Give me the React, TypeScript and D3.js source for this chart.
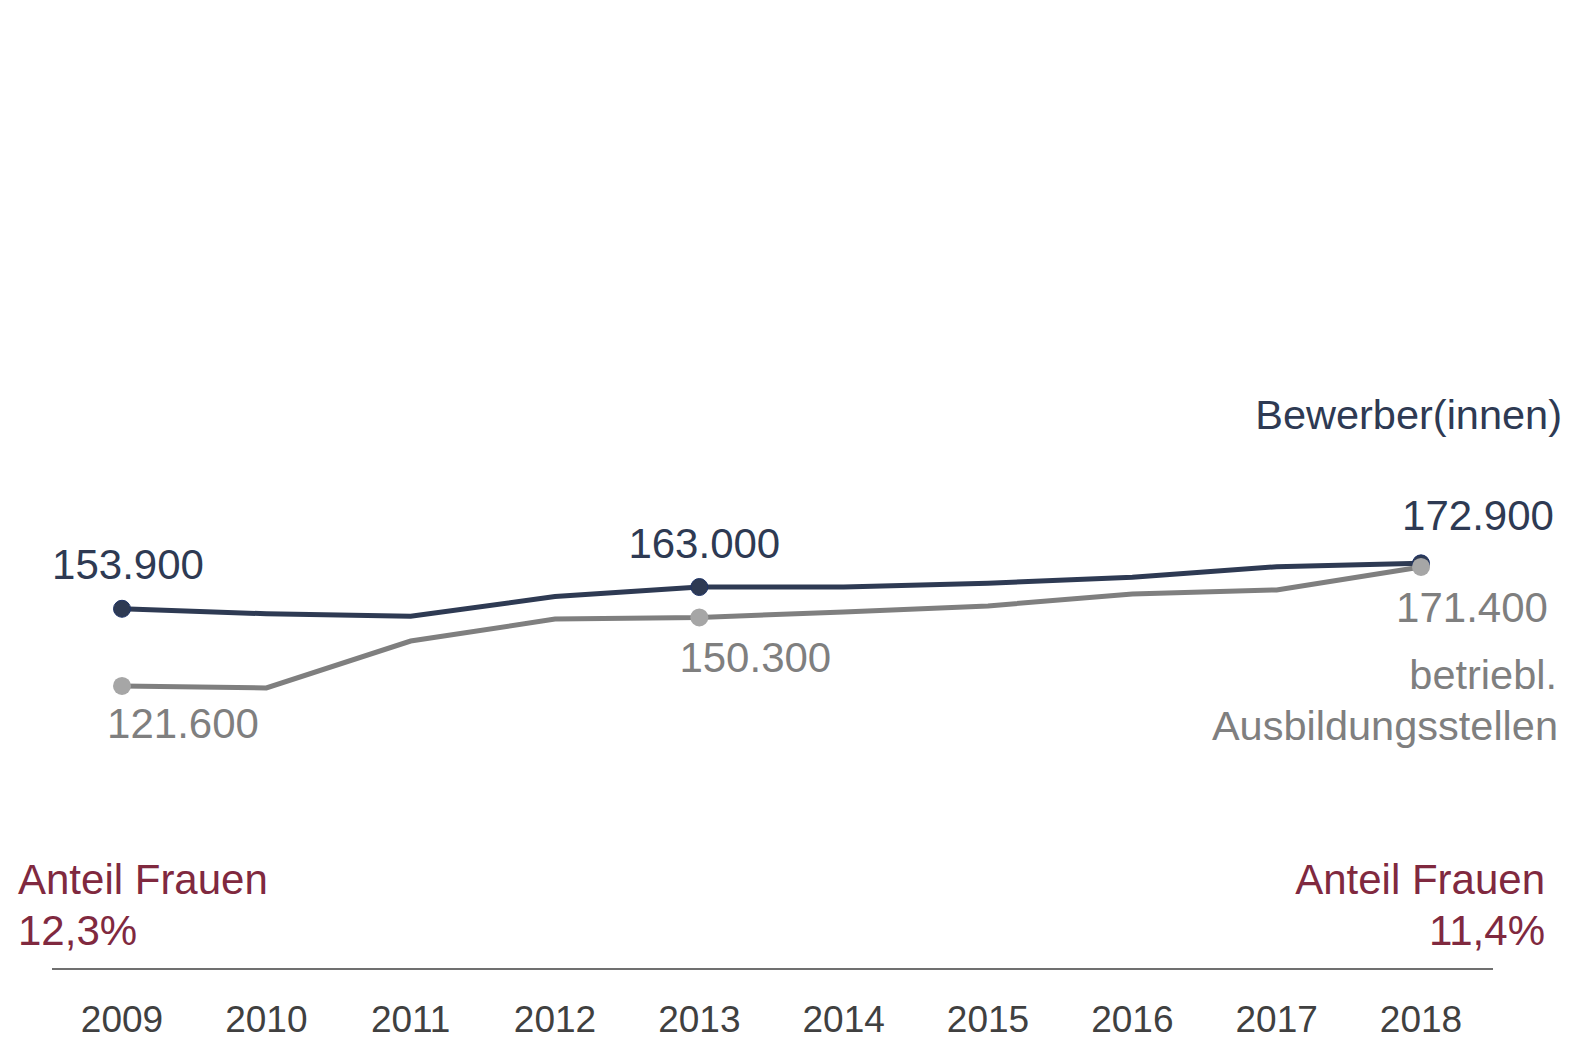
import { useEffect, useRef } from "react";
import * as d3 from "d3";

const years = ["2009", "2010", "2011", "2012", "2013", "2014", "2015", "2016", "2017", "2018"];
// Bewerber(innen), in thousands
const applicants = [153.9, 151.8, 150.8, 159.0, 163.0, 163.0, 164.6, 167.1, 171.5, 172.9];
// betriebl. Ausbildungsstellen, in thousands
const positions = [121.6, 120.8, 140.4, 149.6, 150.3, 152.6, 155.1, 160.1, 161.8, 171.4];
const markedYears = ["2009", "2013", "2018"];
const applicantLabels = ["153.900", "163.000", "172.900"];
const positionLabels = ["121.600", "150.300", "171.400"];
const shareLeft = ["Anteil Frauen", "12,3%"];
const shareRight = ["Anteil Frauen", "11,4%"];

export default function App() {
  const ref = useRef<SVGSVGElement | null>(null);

  useEffect(() => {
    if (!ref.current) return;
    const svg = d3.select(ref.current);
    svg.selectAll("*").remove();

    const font = "'Liberation Sans', Arial, sans-serif";
    const dark = "#2e3a53";
    const grey = "#7f7f7f";
    const greyDot = "#a6a6a6";
    const maroon = "#80293f";
    const axisCol = "#404040";

    const x = d3.scalePoint<string>().domain(years).range([122, 1421]);
    const y = d3.scaleLinear().domain([0, 400]).range([976.6, 20.6]);

    const line = d3
      .line<number>()
      .x((_, i) => x(years[i]) ?? 0)
      .y((d) => y(d));

    // baseline axis
    svg
      .append("line")
      .attr("x1", 52)
      .attr("x2", 1493)
      .attr("y1", 969)
      .attr("y2", 969)
      .attr("stroke", axisCol)
      .attr("stroke-width", 1.5);

    svg
      .append("g")
      .selectAll("text")
      .data(years)
      .join("text")
      .attr("x", (d) => x(d) ?? 0)
      .attr("y", 1032)
      .attr("text-anchor", "middle")
      .attr("font-family", font)
      .attr("font-size", 37)
      .attr("fill", axisCol)
      .text((d) => d);

    // lines
    svg
      .append("path")
      .datum(applicants)
      .attr("d", line)
      .attr("fill", "none")
      .attr("stroke", dark)
      .attr("stroke-width", 5);

    svg
      .append("g")
      .selectAll("circle")
      .data(markedYears)
      .join("circle")
      .attr("cx", (d) => x(d) ?? 0)
      .attr("cy", (d) => y(applicants[years.indexOf(d)]))
      .attr("r", 8.5)
      .attr("fill", dark)
      .attr("stroke", "#1f3468")
      .attr("stroke-width", 1);

    svg
      .append("path")
      .datum(positions)
      .attr("d", line)
      .attr("fill", "none")
      .attr("stroke", grey)
      .attr("stroke-width", 5);

    svg
      .append("g")
      .selectAll("circle")
      .data(markedYears)
      .join("circle")
      .attr("cx", (d) => x(d) ?? 0)
      .attr("cy", (d) => y(positions[years.indexOf(d)]))
      .attr("r", 9)
      .attr("fill", greyDot);

    // value labels
    const appOffsets = [
      [6, -30],
      [5, -29],
      [57, -33],
    ];
    svg
      .append("g")
      .selectAll("text")
      .data(markedYears)
      .join("text")
      .attr("x", (d, i) => (x(d) ?? 0) + appOffsets[i][0])
      .attr("y", (d, i) => y(applicants[years.indexOf(d)]) + appOffsets[i][1])
      .attr("text-anchor", "middle")
      .attr("font-family", font)
      .attr("font-size", 42)
      .attr("fill", dark)
      .text((_, i) => applicantLabels[i]);

    const posOffsets = [
      [61, 52],
      [56, 55],
      [51, 55],
    ];
    svg
      .append("g")
      .selectAll("text")
      .data(markedYears)
      .join("text")
      .attr("x", (d, i) => (x(d) ?? 0) + posOffsets[i][0])
      .attr("y", (d, i) => y(positions[years.indexOf(d)]) + posOffsets[i][1])
      .attr("text-anchor", "middle")
      .attr("font-family", font)
      .attr("font-size", 42)
      .attr("fill", grey)
      .text((_, i) => positionLabels[i]);

    // series names
    svg
      .append("text")
      .attr("x", 1562)
      .attr("y", 429)
      .attr("text-anchor", "end")
      .attr("font-family", font)
      .attr("font-size", 41.5)
      .attr("fill", dark)
      .text("Bewerber(innen)");

    svg
      .append("text")
      .attr("x", 1557)
      .attr("y", 689)
      .attr("text-anchor", "end")
      .attr("font-family", font)
      .attr("font-size", 41.5)
      .attr("fill", grey)
      .text("betriebl.");

    svg
      .append("text")
      .attr("x", 1558)
      .attr("y", 740)
      .attr("text-anchor", "end")
      .attr("font-family", font)
      .attr("font-size", 41.5)
      .attr("fill", grey)
      .text("Ausbildungsstellen");

    // share of women
    svg
      .append("g")
      .selectAll("text")
      .data(shareLeft)
      .join("text")
      .attr("x", 18)
      .attr("y", (_, i) => 894 + i * 51)
      .attr("font-family", font)
      .attr("font-size", 42)
      .attr("fill", maroon)
      .text((d) => d);

    svg
      .append("g")
      .selectAll("text")
      .data(shareRight)
      .join("text")
      .attr("x", 1545)
      .attr("y", (_, i) => 894 + i * 51)
      .attr("text-anchor", "end")
      .attr("font-family", font)
      .attr("font-size", 42)
      .attr("fill", maroon)
      .text((d) => d);
  }, []);

  return (
    <svg
      ref={ref}
      width="1571"
      height="1046"
      style={{ position: "absolute", left: 0, top: 0, background: "#fff" }}
    />
  );
}
